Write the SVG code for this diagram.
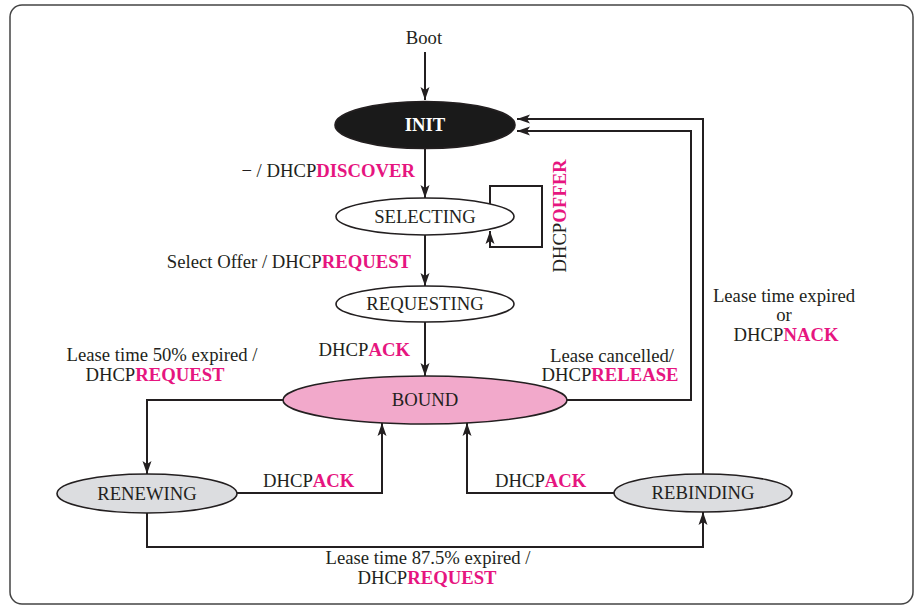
<svg xmlns="http://www.w3.org/2000/svg" width="916" height="606" viewBox="0 0 916 606">
<defs>
<style>
text{font-family:"Liberation Serif","Times New Roman",serif;font-size:18.7px;fill:#231f20}
.b{font-weight:bold;fill:#e6157f}
.st{stroke:#231f20;stroke-width:1.6}
.ln{fill:none;stroke:#231f20;stroke-width:2}
</style>
<marker id="ah" markerUnits="userSpaceOnUse" markerWidth="14" markerHeight="10" refX="13" refY="5" orient="auto">
<path d="M0,0.5 L13,5 L0,9.5 L3,5 Z" fill="#231f20"/>
</marker>
</defs>
<rect x="10" y="5" width="903" height="599" rx="12" fill="#fff" stroke="#444" stroke-width="1.5"/>

<g id="connectors">
<path class="ln" d="M425,52 V100" marker-end="url(#ah)"/>
<path class="ln" d="M425,148 V198" marker-end="url(#ah)"/>
<path class="ln" d="M490,205 V186 H542 V247 H490 V231" marker-end="url(#ah)"/>
<path class="ln" d="M425,235 V286" marker-end="url(#ah)"/>
<path class="ln" d="M425,322 V376" marker-end="url(#ah)"/>
<path class="ln" d="M567,400 H691 V131 H517" marker-end="url(#ah)"/>
<path class="ln" d="M703,474 V119 H517" marker-end="url(#ah)"/>
<path class="ln" d="M283,400 H147 V474" marker-end="url(#ah)"/>
<path class="ln" d="M237,493 H382 V423" marker-end="url(#ah)"/>
<path class="ln" d="M614,493 H467 V423" marker-end="url(#ah)"/>
<path class="ln" d="M147,513 V547 H703 V512" marker-end="url(#ah)"/>
</g>

<g id="labels">
<text x="424" y="44" text-anchor="middle">Boot</text>
<text x="415" y="177" text-anchor="end">− / DHCP<tspan class="b">DISCOVER</tspan></text>
<text x="411" y="268" text-anchor="end">Select Offer / DHCP<tspan class="b">REQUEST</tspan></text>
<text transform="translate(566,216) rotate(-90)" text-anchor="middle">DHCP<tspan class="b">OFFER</tspan></text>
<text x="410" y="356" text-anchor="end">DHCP<tspan class="b">ACK</tspan></text>
<text x="162" y="361" text-anchor="middle">Lease time 50% expired /</text>
<text x="155" y="381" text-anchor="middle">DHCP<tspan class="b">REQUEST</tspan></text>
<text x="612" y="362" text-anchor="middle">Lease cancelled/</text>
<text x="610" y="381" text-anchor="middle">DHCP<tspan class="b">RELEASE</tspan></text>
<text x="784" y="302" text-anchor="middle">Lease time expired</text>
<text x="784" y="321" text-anchor="middle">or</text>
<text x="786" y="341" text-anchor="middle">DHCP<tspan class="b">NACK</tspan></text>
<text x="263" y="487">DHCP<tspan class="b">ACK</tspan></text>
<text x="495" y="487">DHCP<tspan class="b">ACK</tspan></text>
<text x="428" y="564" text-anchor="middle">Lease time 87.5% expired /</text>
<text x="427" y="584" text-anchor="middle">DHCP<tspan class="b">REQUEST</tspan></text>
</g>

<g id="INIT">
<ellipse class="st" cx="425" cy="125" rx="90" ry="23.5" fill="#1a1a1a"/>
<text x="425" y="131" text-anchor="middle" font-weight="bold" style="fill:#fff">INIT</text>
</g>
<g id="SELECTING">
<ellipse class="st" cx="425" cy="216.5" rx="89" ry="18.5" fill="#fff"/>
<text x="425" y="223" text-anchor="middle">SELECTING</text>
</g>
<g id="REQUESTING">
<ellipse class="st" cx="425" cy="304" rx="89" ry="18" fill="#fff"/>
<text x="425" y="310" text-anchor="middle">REQUESTING</text>
</g>
<g id="BOUND">
<ellipse class="st" cx="425" cy="400" rx="142" ry="24" fill="#f2a9cb"/>
<text x="425" y="406" text-anchor="middle">BOUND</text>
</g>
<g id="RENEWING">
<ellipse class="st" cx="147" cy="493.5" rx="90" ry="19.5" fill="#dcdde0"/>
<text x="147" y="500" text-anchor="middle">RENEWING</text>
</g>
<g id="REBINDING">
<ellipse class="st" cx="703" cy="493" rx="89" ry="19" fill="#dcdde0"/>
<text x="703" y="499" text-anchor="middle">REBINDING</text>
</g>
</svg>
